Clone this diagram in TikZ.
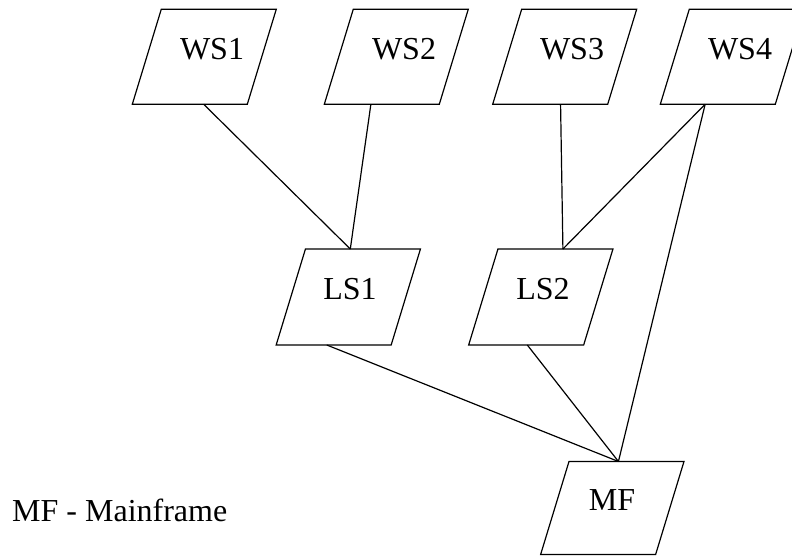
\documentclass[tikz,border=0pt]{standalone}
\usepackage{fontspec}
\setmainfont{Liberation Serif}
\usetikzlibrary{calc}
\begin{document}
\begin{tikzpicture}[x=1pt,y=-1pt,
  box/.style={draw,rectangle,xslant=0.305,transform shape,
    minimum width=115pt,minimum height=95pt,
    inner sep=0pt,outer sep=0pt,line width=1.2pt},
  lbl/.style={anchor=base,font=\fontsize{32}{38}\selectfont,inner sep=0pt},
  link/.style={line width=1.2pt}]
\clip (0,0) rectangle (792,555);

% workstations
\node[box] (ws1) at (204.3,56.7) {};
\node[box] (ws2) at (396.3,56.7) {};
\node[box] (ws3) at (564.7,56.7) {};
\node[box] (ws4) at (732.3,56.7) {};
% local servers
\node[box,minimum height=96pt] (ls1) at (348.3,297) {};
\node[box,minimum height=96pt] (ls2) at (540.8,297) {};
% mainframe
\node[box,minimum height=93pt] (mf) at (612.3,508) {};

% labels
\node[lbl] (ws1t) at (212,59.3) {WS1};
\node[lbl] (ws2t) at (404,59.3) {WS2};
\node[lbl] (ws3t) at (572,59.3) {WS3};
\node[lbl] (ws4t) at (740,59.3) {WS4};
\node[lbl] (ls1t) at (350,299) {LS1};
\node[lbl] (ls2t) at (543,299) {LS2};
\node[lbl] (mft) at (612,510) {MF};
\node[lbl,anchor=base west] (legend) at (12,521.7) {MF - Mainframe};

% connections
\coordinate (ls1in) at ($(ls1.north west)!0.39!(ls1.north east)$);
\coordinate (ls2in) at ($(ls2.north west)!0.565!(ls2.north east)$);
\coordinate (mfin) at ($(mf.north west)!0.43!(mf.north east)$);
\coordinate (ws4out) at ($(ws4.south west)!0.39!(ws4.south east)$);
\draw[link] ($(ws1.south west)!0.62!(ws1.south east)$) -- (ls1in);
\draw[link] ($(ws2.south west)!0.405!(ws2.south east)$) -- (ls1in);
\draw[link] ($(ws3.south west)!0.59!(ws3.south east)$) -- (ls2in);
\draw[link] (ws4out) -- (ls2in);
\draw[link] (ws4out) -- (mfin);
\draw[link] ($(ls1.south west)!0.44!(ls1.south east)$) -- (mfin);
\draw[link] ($(ls2.south west)!0.51!(ls2.south east)$) -- (mfin);
\end{tikzpicture}
\end{document}
